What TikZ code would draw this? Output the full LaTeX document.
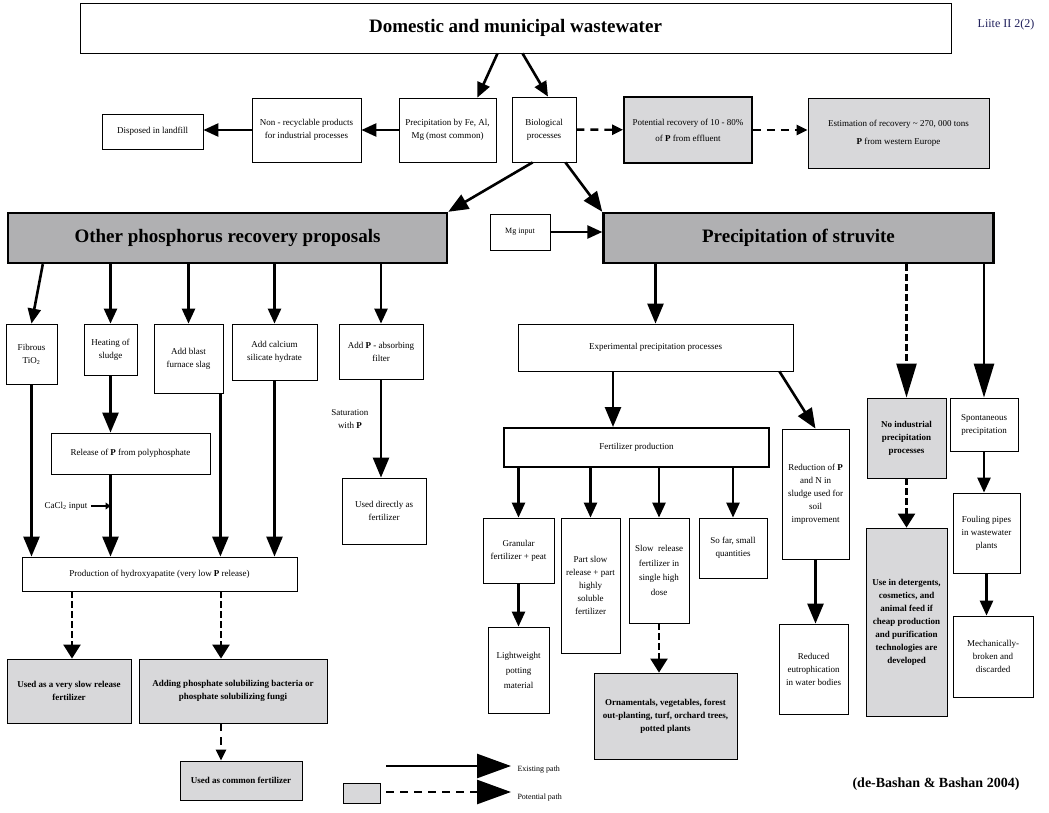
\documentclass[tikz,border=0pt]{standalone}
\usepackage{fontspec}
\setmainfont{Liberation Serif}
\usetikzlibrary{arrows.meta}

\definecolor{hdgray}{RGB}{176,176,178}
\definecolor{lgray}{RGB}{216,216,218}
\definecolor{liitec}{RGB}{30,30,90}
\newcommand\boxfont{\fontsize{9}{13}\selectfont}

\tikzset{
  box/.style={draw, line width=0.8pt, fill=white, align=center, inner sep=1pt, font=\boxfont},
  pbox/.style={box, fill=lgray, font=\boxfont\bfseries},
  head/.style={draw, line width=2.4pt, fill=hdgray, font=\fontsize{19}{22}\selectfont\bfseries},
  arr/.style={line width=2.6pt, -{Triangle[length=15pt,width=13pt]}},
  arrl/.style={line width=2.6pt, -{Triangle[length=20pt,width=16pt]}},
  arrxl/.style={line width=2.6pt, -{Triangle[length=34pt,width=20pt]}},
  potarr/.style={line width=2.4pt, dash pattern=on 7pt off 3pt, -{Triangle[length=14pt,width=17pt]}},
  potarrs/.style={line width=2.4pt, dash pattern=on 8pt off 6pt, -{Triangle[length=11pt,width=10pt]}},
  potarrxl/.style={line width=2.4pt, dash pattern=on 7pt off 3pt, -{Triangle[length=34pt,width=20pt]}},
  legarr/.style={line width=2.6pt, -{Triangle[length=34pt,width=24pt]}}
}

\begin{document}
\begin{tikzpicture}[x=1pt, y=-1pt]
    \useasboundingbox (0,0) rectangle (1049,813);

    % top row
    \node[box, minimum width=871, minimum height=50, font=\fontsize{19}{22}\selectfont\bfseries] (dom) at (515.5,28) {Domestic and municipal wastewater};
    \node[font=\fontsize{12}{14}\selectfont, text=liitec] (liite) at (1006,25) {Liite II 2(2)};
    \node[box, minimum width=101, minimum height=35] (disp) at (152.5,131.5) {Disposed in landfill};
    \node[box, minimum width=109, minimum height=64] (nonrec) at (306.5,130) {Non - recyclable products\\for industrial processes};
    \node[box, minimum width=97, minimum height=64] (precip) at (447.5,130) {Precipitation by Fe, Al,\\Mg (most common)};
    \node[box, minimum width=64, minimum height=65] (bio) at (544,129.5) {Biological\\processes};
    \node[box, line width=1.8pt, fill=lgray, minimum width=128, minimum height=66] (pot) at (688,130) {Potential recovery of 10 - 80\%\\[3pt]of \textbf{P} from effluent};
    \node[box, fill=lgray, minimum width=181, minimum height=70] (est) at (898.5,133) {Estimation of recovery \textasciitilde{} 270, 000 tons\\[5pt]\textbf{P} from western Europe};

    \draw[arr] ([xshift=-18]dom.south) -- ([xshift=-19]precip.north east);
    \draw[arr] ([xshift=7]dom.south) -- ([xshift=4]bio.north);
    \draw[arr] (precip) -- (nonrec);
    \draw[arr] (nonrec.west) -- (nonrec.west -| disp.east);
    \draw[potarrs] (bio) -- (pot);
    \draw[potarrs] (pot.east) -- (pot.east -| est.west);

    % the two main branches
    \node[head, minimum width=439, minimum height=50] (other) at (227.5,238) {Other phosphorus recovery proposals};
    \node[box, minimum width=60, minimum height=36, font=\fontsize{8}{10}\selectfont] (mg) at (520,232) {Mg input};
    \node[head, minimum width=390, minimum height=50] (struv) at (798.5,238) {Precipitation of struvite};

    \draw[arrl] ([xshift=21]bio.south west) -- (other.north east);
    \draw[arrl] ([xshift=-11]bio.south east) -- (struv.north west);
    \draw[arr] (mg) -- (mg -| struv.west);

    % other phosphorus recovery proposals
    \node[box, minimum width=51, minimum height=60] (fib) at (31.5,354) {Fibrous\\TiO\textsubscript{2}};
    \node[box, minimum width=53, minimum height=51] (heat) at (110.5,349.5) {Heating of\\sludge};
    \node[box, minimum width=69, minimum height=69] (blast) at (188.5,358.5) {Add blast\\furnace slag};
    \node[box, minimum width=85, minimum height=56] (calc) at (274.5,352) {Add calcium\\silicate hydrate};
    \node[box, minimum width=84, minimum height=55] (addp) at (381,351.5) {Add \textbf{P} - absorbing\\filter};
    \node[box, minimum width=159, minimum height=41] (rel) at (130.5,453.5) {Release of \textbf{P} from polyphosphate};
    \node[font=\boxfont] (cacl) at (66,506) {CaCl\textsubscript{2} input};
    \node[box, minimum width=84, minimum height=66] (direct) at (384,511) {Used directly as\\fertilizer};
    \node[box, minimum width=275, minimum height=34] (prod) at (159.5,574) {Production of hydroxyapatite (very low \textbf{P} release)};
    \node[pbox, minimum width=124, minimum height=64] (slowfert) at (69,691) {Used as a very slow release\\fertilizer};
    \node[pbox, minimum width=188, minimum height=64] (adding) at (233,691) {Adding phosphate solubilizing bacteria or\\phosphate solubilizing fungi};
    \node[pbox, minimum width=122, minimum height=39] (common) at (241,780.5) {Used as common fertilizer};

    \draw[arr] ([xshift=36]other.south west) -- (fib.north);
    \foreach \n in {heat,blast,calc,addp}
        \draw[arr] (other.south -| \n.north) -- (\n.north);
    \draw[arrl] (heat) -- (rel.north -| heat);
    \draw[arrl] (rel.south -| heat) -- (prod.north -| heat);
    \draw[arrl] (fib) -- (prod.north -| fib);
    \coordinate (bcol) at ([xshift=-3]blast.south east);
    \draw[arrl] (bcol) -- (prod.north -| bcol);
    \draw[arrl] (calc) -- (prod.north -| calc);
    \draw[line width=1.6pt, -{Triangle[length=5pt,width=7pt]}] (cacl) -- (cacl -| heat);
    \draw[arrl] (addp) -- node[pos=0.4, left=8pt, font=\boxfont, align=center] {Saturation\\with \textbf{P}} (direct.north -| addp);

    \coordinate (c1) at (72,0);
    \coordinate (c2) at (221,0);
    \draw[potarr] (prod.south -| c1) -- (slowfert.north -| c1);
    \draw[potarr] (prod.south -| c2) -- (adding.north -| c2);
    \draw[potarrs] (adding.south -| c2) -- (common.north -| c2);

    % precipitation of struvite
    \node[box, minimum width=275, minimum height=47] (exp) at (655.5,347.5) {Experimental precipitation processes};
    \node[box, line width=2pt, minimum width=265, minimum height=39] (fert) at (636.5,447.5) {Fertilizer production};
    \node[box, minimum width=71, minimum height=65] (gran) at (518.5,550.5) {Granular\\fertilizer + peat};
    \node[box, minimum width=59, minimum height=135] (part) at (590.5,585.5) {Part slow\\release + part\\highly\\soluble\\fertilizer};
    \node[box, minimum width=60, minimum height=105] (slow) at (659,570.5) {Slow\enspace release\\[1.5pt]fertilizer in\\[1.5pt]single high\\[1.5pt]dose};
    \node[box, minimum width=68, minimum height=60] (sofar) at (733,548) {So far, small\\quantities};
    \node[box, minimum width=61, minimum height=86] (light) at (518.5,670) {Lightweight\\[2pt]potting\\[2pt]material};
    \node[pbox, minimum width=143, minimum height=86] (orn) at (665.5,716) {Ornamentals, vegetables, forest\\out-planting, turf, orchard trees,\\potted plants};
    \node[box, minimum width=67, minimum height=130] (red) at (815.5,494) {Reduction of \textbf{P}\\and N in\\sludge used for\\soil\\improvement};
    \node[box, minimum width=69, minimum height=90] (reduced) at (813.5,669) {Reduced\\eutrophication\\in water bodies};
    \node[pbox, minimum width=79, minimum height=80] (noind) at (906.5,438) {No industrial\\precipitation\\processes};
    \node[pbox, minimum width=81, minimum height=188] (deterg) at (906.5,622) {Use in detergents,\\cosmetics, and\\animal feed if\\cheap production\\and purification\\technologies are\\developed};
    \node[box, minimum width=68, minimum height=53] (spont) at (984,424.5) {Spontaneous\\precipitation};
    \node[box, minimum width=67, minimum height=80] (foul) at (986.5,533) {Fouling pipes\\in wastewater\\plants};
    \node[box, minimum width=80, minimum height=81] (mech) at (993,656.5) {Mechanically-\\broken and\\discarded};

    \draw[arrl] (struv.south -| exp.north) -- (exp.north);
    \coordinate (c3) at (613,0);
    \draw[arrl] (exp.south -| c3) -- (fert.north -| c3);
    \draw[arrl] ([xshift=-14]exp.south east) -- (red.north);
    \foreach \n in {gran,part,slow,sofar}
        \draw[arr] (fert.south -| \n.north) -- (\n.north);
    \draw[arr] (gran) -- (light);
    \draw[potarr] (slow) -- (orn.north -| slow);
    \draw[arrl] (red.south) -- (reduced.north -| red.south);
    \draw[potarrxl] (struv.south -| noind.north) -- (noind.north);
    \draw[potarr] (noind) -- (deterg);
    \draw[arrxl] (struv.south -| spont.north) -- (spont.north);
    \draw[arr] (spont) -- (foul.north -| spont);
    \draw[arr] (foul) -- (mech.north -| foul);

    % legend and source
    \node[pbox, minimum width=37, minimum height=20] (legbox) at (361.5,793) {};
    \coordinate (ls1) at (386,766);
    \coordinate (le1) at (511,766);
    \coordinate (ls2) at (386,792);
    \coordinate (le2) at (511,792);
    \draw[legarr] (ls1) -- (le1);
    \draw[legarr, dash pattern=on 8pt off 6pt] (ls2) -- (le2);
    \node[right, font=\fontsize{8}{10}\selectfont] (exlab) at (514,770) {Existing path};
    \node[right, font=\fontsize{8}{10}\selectfont] (potlab) at (514,798) {Potential path};
    \node[font=\fontsize{14}{16}\selectfont\bfseries] (cite) at (936,784) {(de-Bashan \& Bashan 2004)};
\end{tikzpicture}
\end{document}
